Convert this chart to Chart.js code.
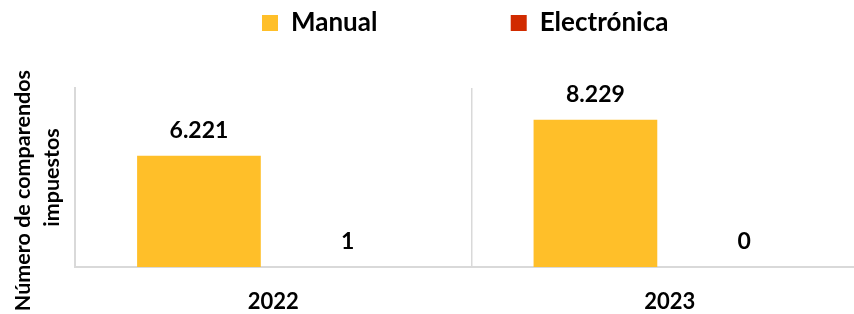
<!DOCTYPE html>
<html>
<head>
<meta charset="utf-8">
<script src="https://cdn.jsdelivr.net/npm/chart.js@4"></script>
<style>
  html, body { margin: 0; padding: 0; background: #fff; overflow: hidden; }
  #wrap { width: 868px; height: 314px; }
</style>
</head>
<body>
<div id="wrap"><canvas id="myChart"></canvas></div>
<script>
let years = ["2022", "2023"];
let manual = [6221, 8229];
let electronica = [1, 0];
let yTitle = ["Número de comparendos     ", "impuestos"];

// puntos de miles como en el original
function miles(v) {
    return String(v).replace(/\B(?=(\d{3})+(?!\d))/g, ".");
}

let etiquetas = {
    id: "etiquetas",
    afterDatasetsDraw(chart) {
        let ctx = chart.ctx;
        ctx.save();
        ctx.font = "bold 23px Lato";
        ctx.fillStyle = "#000";
        ctx.textAlign = "center";
        ctx.textBaseline = "alphabetic";
        chart.data.datasets.forEach((ds, i) => {
            chart.getDatasetMeta(i).data.forEach((bar, j) => {
                ctx.fillText(miles(ds.data[j]), bar.x, bar.y - 18);
            });
        });
        ctx.restore();
    }
};

Chart.defaults.color = "#000";
Chart.defaults.font.family = "Lato";

let ctx = document.querySelector("#myChart");
let myChart = new Chart(ctx, {
    type: "bar",
    data: {
        labels: years,
        datasets: [
            { label: "Manual", data: manual, backgroundColor: "#FFBF29" },
            { label: "Electrónica", data: electronica, backgroundColor: "#D12B00" }
        ]
    },
    options: {
        responsive: true,
        maintainAspectRatio: false,
        animation: false,
        layout: { padding: { left: 8, right: 0, top: 0, bottom: 0 } },
        datasets: { bar: { categoryPercentage: 0.75, barPercentage: 0.832 } },
        plugins: {
            tooltip: { enabled: false },
            legend: {
                position: "top",
                fullSize: false,
                labels: {
                    boxWidth: 16,
                    boxHeight: 16,
                    padding: 10,
                    font: { size: 26, weight: "bold" },
                    generateLabels(chart) {
                        let items = Chart.defaults.plugins.legend.labels.generateLabels(chart);
                        items[0].text = items[0].text + "\u2003\u2003\u2003\u2003\u2003\u2003 ";
                        items[1].text = items[1].text + "  ";
                        return items;
                    }
                }
            },
            subtitle: {
                display: true,
                text: "",
                weight: 500,
                font: { size: 1, lineHeight: 1.2 },
                padding: { top: 20, bottom: 20.8 }
            }
        },
        scales: {
            x: {
                grid: { offset: true, drawTicks: false, color: "#d9d9d9", lineWidth: 1.5 },
                border: { display: true, color: "#d9d9d9", width: 2 },
                ticks: { padding: 22, font: { size: 22, weight: "bold" } },
                afterFit(scale) {
                    scale.height = 47;
                }
            },
            y: {
                min: 0,
                max: 10000,
                grid: { display: false },
                border: { display: true, color: "#d9d9d9", width: 2 },
                ticks: { display: false },
                title: {
                    display: true,
                    text: yTitle,
                    font: { size: 21.5, weight: "bold", lineHeight: 1.35 },
                    padding: { top: 1, bottom: 0 }
                }
            }
        }
    },
    plugins: [etiquetas]
});
</script>
</body>
</html>
